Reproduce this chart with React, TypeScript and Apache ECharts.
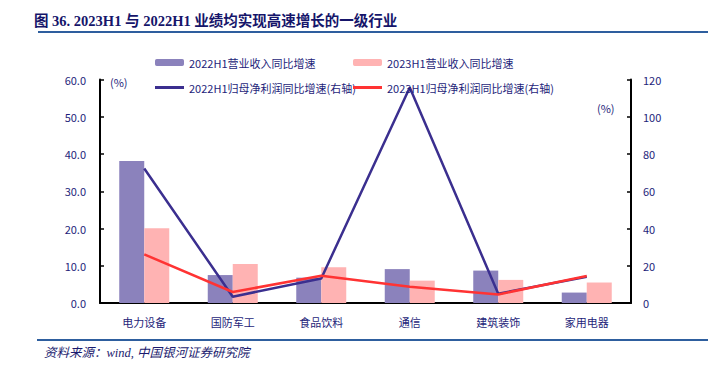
import React, { useEffect, useRef } from "react";
import * as echarts from "echarts";

const categories = ["电力设备", "国防军工", "食品饮料", "通信", "建筑装饰", "家用电器"];
const rev2022 = [38.1, 7.5, 6.8, 9.1, 8.7, 2.8];
const rev2023 = [20.1, 10.5, 9.6, 6.0, 6.2, 5.5];
const np2022 = [72.2, 3.4, 13.2, 115.7, 5.0, 14.1];
const np2023 = [26.1, 5.9, 14.6, 8.7, 4.6, 14.5];
const seriesNames = [
  "2022H1营业收入同比增速",
  "2023H1营业收入同比增速",
  "2022H1归母净利润同比增速(右轴)",
  "2023H1归母净利润同比增速(右轴)",
];

const NAVY = "#1E1E7A";
const FONT = "'Noto Sans CJK SC', 'Noto Sans', sans-serif";

export default function App() {
  const ref = useRef<HTMLDivElement>(null);
  useEffect(() => {
    const chart = echarts.init(ref.current!, null, { renderer: "svg" });
    const legendBase = {
      orient: "horizontal" as const,
      itemWidth: 29,
      itemHeight: 7,
      itemGap: 4,
      textStyle: { color: NAVY, fontSize: 11, fontFamily: FONT },
      selectedMode: false,
    };
    chart.setOption({
      animation: false,
      backgroundColor: "#fff",
      textStyle: { fontFamily: FONT },
      title: {
        text: "图 36. 2023H1 与 2022H1 业绩均实现高速增长的一级行业",
        left: 29,
        top: 9,
        textStyle: {
          color: "#15156A",
          fontSize: 14.5,
          fontWeight: "bold",
          fontFamily: "'Liberation Serif', 'Noto Sans CJK SC', serif",
        },
      },
      legend: [
        { ...legendBase, left: 150, top: 52, data: [seriesNames[0]] },
        { ...legendBase, left: 348, top: 52, data: [seriesNames[1]] },
        { ...legendBase, left: 150, top: 77, itemHeight: 3, data: [{ name: seriesNames[2], icon: "rect" }] },
        { ...legendBase, left: 348, top: 77, itemHeight: 3, data: [{ name: seriesNames[3], icon: "rect" }] },
      ],
      grid: { left: 100, right: 77, top: 79.5, bottom: 65 },
      xAxis: {
        type: "category",
        data: categories,
        axisLine: { lineStyle: { color: "#000", width: 2 } },
        axisTick: { inside: true, length: 5, lineStyle: { color: "#000", width: 1.5 } },
        axisLabel: { color: NAVY, fontSize: 11, margin: 13, fontFamily: FONT },
      },
      yAxis: [
        {
          type: "value",
          min: 0,
          max: 60,
          interval: 10,
          axisLine: { show: true, lineStyle: { color: "#000", width: 2 } },
          axisTick: { show: true, inside: true, length: 4, lineStyle: { color: "#000", width: 1.5 } },
          splitLine: { show: false },
          axisLabel: { color: NAVY, fontSize: 11, margin: 14, formatter: (v: number) => v.toFixed(1), fontFamily: FONT },
        },
        {
          type: "value",
          min: 0,
          max: 120,
          interval: 20,
          position: "right",
          axisLine: { show: true, lineStyle: { color: "#000", width: 2 } },
          axisTick: { show: true, inside: true, length: 4, lineStyle: { color: "#000", width: 1.5 } },
          splitLine: { show: false },
          axisLabel: { color: NAVY, fontSize: 11, margin: 12, fontFamily: FONT },
        },
      ],
      series: [
        {
          name: seriesNames[0],
          type: "bar",
          data: rev2022,
          barWidth: 25,
          barGap: "0%",
          itemStyle: { color: "#8B82BC" },
        },
        {
          name: seriesNames[1],
          type: "bar",
          data: rev2023,
          barWidth: 25,
          barGap: "0%",
          itemStyle: { color: "#FFB3B3" },
        },
        {
          name: seriesNames[2],
          type: "line",
          yAxisIndex: 1,
          data: np2022,
          symbol: "none",
          lineStyle: { color: "#3B2F8F", width: 2.5 },
          itemStyle: { color: "#3B2F8F" },
        },
        {
          name: seriesNames[3],
          type: "line",
          yAxisIndex: 1,
          data: np2023,
          symbol: "none",
          lineStyle: { color: "#FF3333", width: 2.5 },
          itemStyle: { color: "#FF3333" },
        },
      ],
      graphic: [
        { type: "line", shape: { x1: 38, y1: 32, x2: 708, y2: 32 }, style: { stroke: "#2E5E9E", lineWidth: 2 } },
        { type: "line", shape: { x1: 37, y1: 340, x2: 708, y2: 340 }, style: { stroke: "#2E5E9E", lineWidth: 2 } },
        {
          type: "text",
          left: 110,
          top: 76,
          style: { text: "(%)", fill: NAVY, fontSize: 11, fontFamily: FONT },
        },
        {
          type: "text",
          left: 597,
          top: 102,
          style: { text: "(%)", fill: NAVY, fontSize: 11, fontFamily: FONT },
        },
        {
          type: "text",
          left: 44,
          top: 347,
          style: {
            text: "资料来源：wind, 中国银河证券研究院",
            fill: "#1A1A6E",
            fontSize: 12.5,
            fontStyle: "italic",
            fontFamily: "'Liberation Serif', 'Noto Sans CJK SC', serif",
          },
        },
      ],
    });
    return () => chart.dispose();
  }, []);
  return <div ref={ref} style={{ width: 708, height: 368, position: "absolute", left: 0, top: 0 }} />;
}
